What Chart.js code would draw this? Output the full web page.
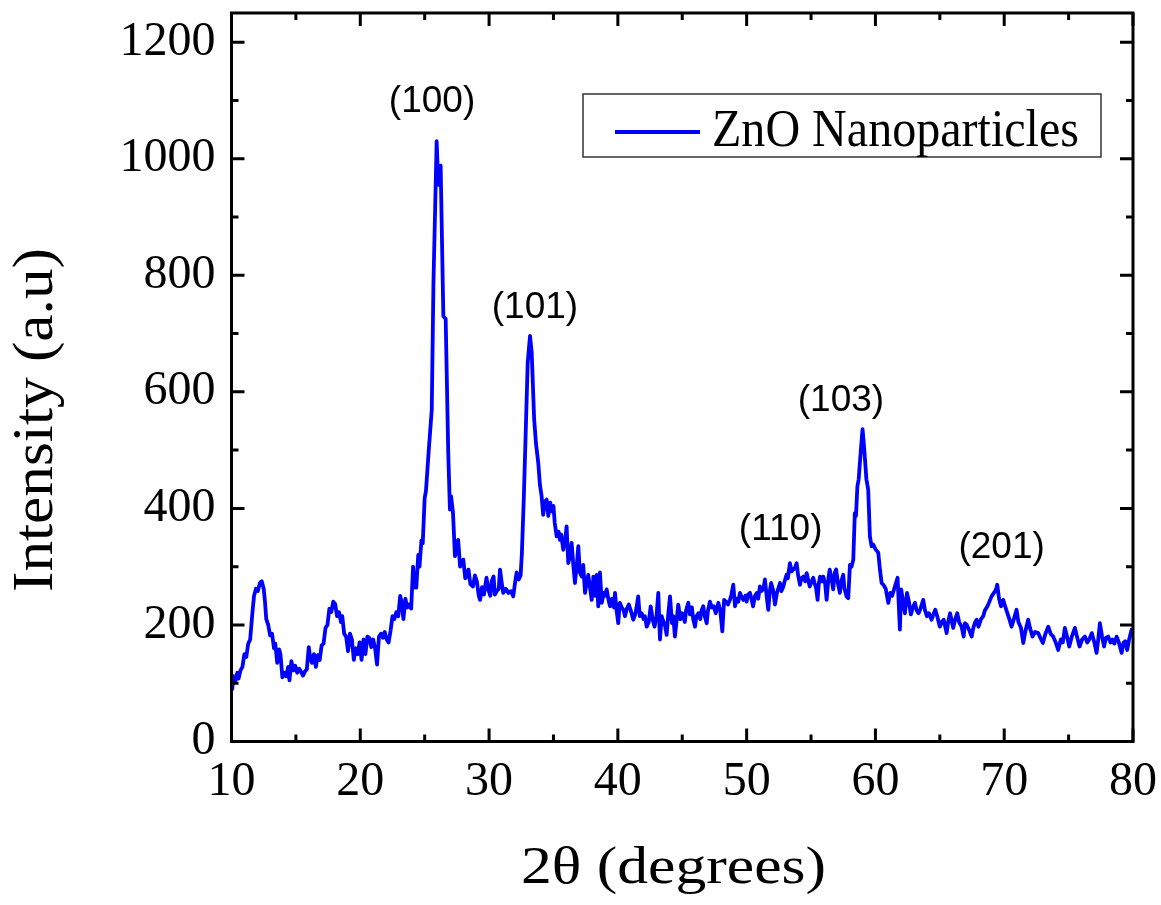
<!DOCTYPE html>
<html>
<head>
<meta charset="utf-8">
<script src="https://cdn.jsdelivr.net/npm/chart.js@4.4.0/dist/chart.umd.min.js"></script>
<style>
  html, body { margin: 0; padding: 0; background: #ffffff; }
  #wrap { width: 1161px; height: 905px; position: relative; }
</style>
</head>
<body>
<div id="wrap"><canvas id="xrd" width="1161" height="905"></canvas></div>
<script>
// XRD pattern of ZnO nanoparticles: 2θ (degrees) vs intensity (a.u.)
const twoTheta = [
  10.05,10.15,10.3,10.45,10.55,10.7,10.85,11.0,11.15,11.3,11.45,11.6,11.75,11.9,12.05,12.2,12.35,12.5,12.6,12.7,
  12.85,13.0,13.15,13.3,13.4,13.55,13.7,13.8,13.95,14.1,14.25,14.4,14.5,14.65,14.8,14.95,15.1,15.25,15.4,15.55,
  15.7,15.85,16.0,16.1,16.25,16.4,16.55,16.7,16.85,17.0,17.15,17.3,17.45,17.6,17.75,17.9,18.05,18.2,18.35,18.5,
  18.6,18.75,18.9,19.05,19.2,19.35,19.5,19.65,19.8,19.95,20.1,20.25,20.4,20.55,20.7,20.85,21.0,21.15,21.3,21.45,
  21.6,21.75,21.9,22.05,22.2,22.35,22.5,22.65,22.8,22.95,23.1,23.2,23.35,23.5,23.65,23.8,23.95,24.1,24.2,24.35,
  24.5,24.6,24.75,24.85,25.0,25.1,25.3,25.55,25.68,25.93,26.06,26.24,26.45,26.63,26.83,26.96,27.05,27.2,27.35,27.5,
  27.6,27.75,27.9,28.0,28.15,28.26,28.4,28.55,28.75,28.9,29.05,29.2,29.3,29.45,29.6,29.8,29.95,30.1,30.2,30.35,
  30.45,30.6,30.75,30.85,31.0,31.1,31.3,31.5,31.7,31.88,32.0,32.14,32.3,32.45,32.55,32.7,32.8,33.0,33.18,33.31,
  33.5,33.65,33.82,33.95,34.08,34.2,34.35,34.47,34.6,34.75,34.85,35.0,35.1,35.25,35.4,35.5,35.6,35.76,35.9,36.02,
  36.15,36.3,36.41,36.55,36.67,36.8,36.93,37.05,37.2,37.31,37.45,37.6,37.7,37.85,37.97,38.1,38.25,38.35,38.48,38.61,
  38.75,38.9,39.0,39.13,39.3,39.4,39.55,39.7,39.78,39.9,40.03,40.15,40.3,40.45,40.55,40.7,40.85,41.0,41.2,41.35,
  41.45,41.58,41.7,41.85,42.0,42.1,42.24,42.4,42.55,42.7,42.85,43.0,43.14,43.27,43.4,43.55,43.65,43.79,43.9,44.05,
  44.2,44.3,44.43,44.55,44.69,44.85,45.0,45.08,45.2,45.3,45.47,45.6,45.75,45.85,45.99,46.1,46.25,46.4,46.5,46.63,
  46.75,46.9,47.0,47.15,47.3,47.45,47.6,47.7,47.8,47.95,48.11,48.25,48.4,48.55,48.7,48.8,48.96,49.1,49.2,49.35,
  49.48,49.6,49.75,49.9,50.0,50.1,50.26,50.4,50.5,50.65,50.8,50.9,51.03,51.15,51.3,51.42,51.55,51.68,51.8,51.9,
  52.05,52.2,52.35,52.45,52.59,52.7,52.85,52.95,53.1,53.2,53.36,53.5,53.62,53.75,53.88,54.0,54.14,54.25,54.4,54.55,
  54.66,54.8,54.9,55.05,55.17,55.3,55.4,55.51,55.6,55.7,55.85,55.95,56.1,56.21,56.35,56.45,56.6,56.72,56.85,56.95,
  57.1,57.24,57.35,57.5,57.6,57.76,57.89,58.02,58.15,58.28,58.4,58.49,58.6,58.7,58.85,59.0,59.1,59.19,59.3,59.44,
  59.57,59.7,59.83,60.0,60.22,60.35,60.48,60.65,60.8,61.0,61.15,61.3,61.51,61.72,61.9,62.0,62.15,62.29,62.45,62.6,
  62.75,62.9,63.07,63.2,63.35,63.5,63.71,63.85,64.0,64.15,64.36,64.5,64.65,64.8,65.0,65.15,65.3,65.53,65.65,65.8,
  66.04,66.2,66.35,66.5,66.69,66.85,66.95,67.1,67.3,67.47,67.6,67.75,67.86,68.0,68.2,68.37,68.5,68.7,68.85,69.02,
  69.2,69.35,69.46,69.6,69.75,69.92,70.1,70.25,70.4,70.57,70.75,70.96,71.1,71.3,71.48,71.65,71.86,72.0,72.2,72.4,
  72.64,72.8,73.0,73.2,73.42,73.6,73.8,74.0,74.19,74.4,74.55,74.71,74.9,75.05,75.25,75.49,75.65,75.85,76.05,76.27,
  76.45,76.6,76.8,77.0,77.17,77.3,77.43,77.6,77.75,77.9,78.08,78.25,78.4,78.55,78.73,78.9,79.12,79.25,79.4,79.55,
  79.7,79.89,80.0
];

const intensity = [
  88,112,104,118,108,122,128,150,145,168,175,215,250,262,258,272,275,262,240,210,
  200,182,185,160,168,135,158,150,110,118,112,128,105,138,122,130,118,125,120,113,
  120,124,162,145,135,150,128,148,140,165,168,195,200,228,222,240,236,215,222,205,
  215,185,180,155,185,175,140,160,150,170,140,175,150,180,178,162,175,160,132,180,
  185,178,188,175,170,190,215,210,222,215,250,240,210,245,230,235,228,300,265,264,
  320,300,345,340,418,430,495,570,785,1030,955,988,730,725,496,398,421,392,318,330,
  346,300,305,312,280,283,295,270,266,285,275,250,243,265,252,281,260,250,275,283,
  252,258,262,295,270,255,262,255,258,249,270,290,278,285,324,420,496,650,696,668,
  553,510,478,440,421,389,412,415,387,410,395,404,375,352,360,346,355,329,345,369,
  306,320,341,300,272,300,335,290,283,303,255,275,286,262,243,283,250,286,232,290,
  238,255,250,261,240,232,245,230,255,225,203,238,230,225,215,228,235,225,209,218,
  230,249,215,220,210,215,197,205,232,210,197,215,255,175,215,205,200,183,215,249,
  203,215,180,205,235,210,220,215,205,225,238,218,230,210,197,215,220,210,225,232,
  215,203,225,240,230,232,220,228,238,225,189,243,240,235,243,250,269,232,245,240,
  255,248,243,250,240,252,255,242,232,250,255,245,266,258,262,278,250,226,258,272,
  260,235,255,262,272,258,266,275,286,280,306,292,295,298,306,285,269,280,283,275,
  289,275,266,275,281,270,262,243,270,283,275,283,270,243,280,295,278,261,290,295,
  270,255,275,286,262,249,246,303,300,312,392,387,438,450,495,536,510,484,450,432,
  352,335,338,330,324,295,272,268,262,238,255,250,266,281,192,261,240,220,255,240,
  218,230,238,225,220,228,243,225,215,220,209,218,226,215,197,205,209,186,205,220,
  195,210,220,205,197,180,203,200,190,180,195,205,209,197,210,215,225,232,240,249,
  255,260,269,245,232,243,230,220,210,197,210,226,205,195,169,190,209,195,180,188,
  186,178,169,185,197,185,180,170,157,175,170,195,178,163,180,195,180,163,175,180,
  170,175,186,170,152,175,203,180,163,178,180,170,175,168,180,170,152,169,172,157,
  175,192,190
];

// Axis ranges and tick values
const xRange = [10, 80];
const yRange = [0, 1250];
const xMajorTicks = [10, 20, 30, 40, 50, 60, 70, 80];
const xMinorTicks = [15, 25, 35, 45, 55, 65, 75];
const yMajorTicks = [0, 200, 400, 600, 800, 1000, 1200];
const yMinorTicks = [100, 300, 500, 700, 900, 1100];

// Reflection indices and where their labels sit (2θ, intensity)
const peakLabels = ['(100)', '(101)', '(110)', '(103)', '(201)'];
const peakLabelX = [25.57, 33.56, 52.64, 57.32, 69.80];
const peakLabelY = [1098, 745, 364, 584, 333];

const seriesName = 'ZnO Nanoparticles';
const xTitle = '2θ (degrees)';
const yTitle = 'Intensity (a.u)';
const lineColor = '#0000ff';

const points = twoTheta.map((t, i) => ({ x: t, y: intensity[i] }));

const SERIF = '"Liberation Serif", "Times New Roman", "DejaVu Serif", serif';
const SANS = '"Liberation Sans", Arial, "DejaVu Sans", sans-serif';

// Draws text so that it spans a given width (along its reading direction)
function fitText(ctx, text, font, x, y, width, rotate) {
  ctx.save();
  ctx.font = font;
  const w = ctx.measureText(text).width;
  ctx.translate(x, y);
  if (rotate) ctx.rotate(-Math.PI / 2);
  ctx.scale(width / w, 1);
  ctx.textAlign = 'left';
  ctx.textBaseline = 'alphabetic';
  ctx.fillText(text, 0, 0);
  ctx.restore();
}

// Frame with inward major/minor ticks on all four sides
const framePlugin = {
  id: 'frame',
  afterDatasetsDraw(chart) {
    const { ctx, chartArea: a, scales: { x, y } } = chart;
    ctx.save();
    ctx.strokeStyle = '#000';
    ctx.lineWidth = 3;
    ctx.lineCap = 'butt';
    const major = 13, minor = 7;
    ctx.beginPath();
    xMajorTicks.forEach(v => {
      const px = x.getPixelForValue(v);
      ctx.moveTo(px, a.bottom); ctx.lineTo(px, a.bottom - major);
      ctx.moveTo(px, a.top); ctx.lineTo(px, a.top + major);
    });
    xMinorTicks.forEach(v => {
      const px = x.getPixelForValue(v);
      ctx.moveTo(px, a.bottom); ctx.lineTo(px, a.bottom - minor);
      ctx.moveTo(px, a.top); ctx.lineTo(px, a.top + minor);
    });
    yMajorTicks.forEach(v => {
      const py = y.getPixelForValue(v);
      ctx.moveTo(a.left, py); ctx.lineTo(a.left + major, py);
      ctx.moveTo(a.right, py); ctx.lineTo(a.right - major, py);
    });
    yMinorTicks.forEach(v => {
      const py = y.getPixelForValue(v);
      ctx.moveTo(a.left, py); ctx.lineTo(a.left + minor, py);
      ctx.moveTo(a.right, py); ctx.lineTo(a.right - minor, py);
    });
    ctx.stroke();
    ctx.strokeRect(a.left, a.top, a.right - a.left, a.bottom - a.top);
    ctx.restore();
  }
};

// Reflection labels above the peaks
const peakLabelPlugin = {
  id: 'peakLabels',
  afterDatasetsDraw(chart) {
    const { ctx, scales: { x, y } } = chart;
    ctx.save();
    ctx.fillStyle = '#000';
    ctx.font = '37px ' + SANS;
    ctx.textAlign = 'center';
    ctx.textBaseline = 'middle';
    peakLabels.forEach((t, i) => {
      ctx.fillText(t, x.getPixelForValue(peakLabelX[i]), y.getPixelForValue(peakLabelY[i]));
    });
    ctx.restore();
  }
};

// Axis titles and the boxed legend
const textPlugin = {
  id: 'titlesAndLegend',
  afterDraw(chart) {
    const { ctx } = chart;
    const ds = chart.data.datasets[0];
    ctx.save();
    ctx.fillStyle = '#000';
    fitText(ctx, xTitle, '52px ' + SERIF, 521, 883, 305, false);
    fitText(ctx, yTitle, '56px ' + SERIF, 52, 592, 344, true);

    const bx = 583, by = 94, bw = 518, bh = 63;
    ctx.strokeStyle = '#333';
    ctx.lineWidth = 1.5;
    ctx.strokeRect(bx, by, bw, bh);
    ctx.strokeStyle = ds.borderColor;
    ctx.lineWidth = 4;
    ctx.beginPath();
    ctx.moveTo(bx + 32, by + 38);
    ctx.lineTo(bx + 117, by + 38);
    ctx.stroke();
    ctx.fillStyle = '#000';
    fitText(ctx, ds.label, '52px ' + SERIF, bx + 129, by + 52, 367, false);
    ctx.restore();
  }
};

new Chart(document.getElementById('xrd'), {
  type: 'line',
  data: {
    datasets: [{
      label: seriesName,
      data: points,
      borderColor: lineColor,
      backgroundColor: lineColor,
      borderWidth: 3.8,
      pointRadius: 0,
      tension: 0,
      borderJoinStyle: 'round',
      fill: false
    }]
  },
  options: {
    responsive: false,
    animation: false,
    devicePixelRatio: 1,
    layout: { padding: { top: 13, right: 28, left: 0, bottom: 0 } },
    plugins: {
      legend: { display: false },
      tooltip: { enabled: false }
    },
    scales: {
      x: {
        type: 'linear',
        min: xRange[0],
        max: xRange[1],
        afterBuildTicks(scale) { scale.ticks = xMajorTicks.map(v => ({ value: v })); },
        grid: { display: false, drawTicks: false },
        border: { display: false },
        ticks: {
          color: '#000',
          padding: 12,
          maxRotation: 0,
          font: { family: SERIF, size: 48 },
          callback: v => String(v)
        },
        afterFit(scale) {
          scale.height = 905 - 741.5;
          scale.paddingLeft = 0;
          scale.paddingRight = 0;
        }
      },
      y: {
        type: 'linear',
        min: yRange[0],
        max: yRange[1],
        afterBuildTicks(scale) { scale.ticks = yMajorTicks.map(v => ({ value: v })); },
        grid: { display: false, drawTicks: false },
        border: { display: false },
        ticks: {
          color: '#000',
          padding: 16,
          font: { family: SERIF, size: 48 },
          callback: v => String(v)
        },
        afterFit(scale) {
          scale.width = 231.5;
          scale.paddingTop = 0;
          scale.paddingBottom = 0;
        }
      }
    }
  },
  plugins: [framePlugin, peakLabelPlugin, textPlugin]
});
</script>
</body>
</html>
